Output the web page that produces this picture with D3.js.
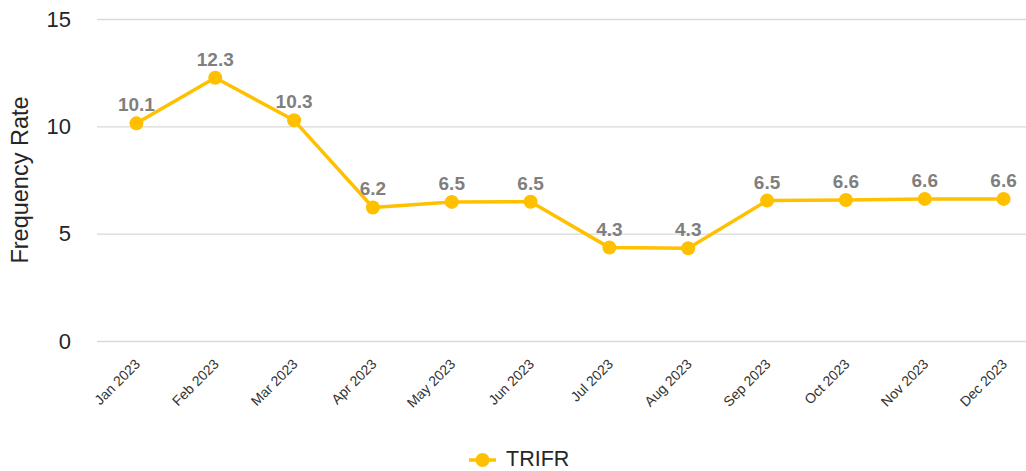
<!DOCTYPE html>
<html>
<head>
<meta charset="utf-8">
<script src="https://cdn.jsdelivr.net/npm/d3@7"></script>
<style>
  body { margin: 0; background: #fff; }
  svg { display: block; font-family: "Liberation Sans", Arial, sans-serif; }
</style>
</head>
<body>
<div id="chart"></div>
<script>
// chart data
const months = ["Jan 2023", "Feb 2023", "Mar 2023", "Apr 2023", "May 2023", "Jun 2023",
                "Jul 2023", "Aug 2023", "Sep 2023", "Oct 2023", "Nov 2023", "Dec 2023"];
const trifr = [10.14, 12.26, 10.28, 6.22, 6.48, 6.49, 4.35, 4.32, 6.54, 6.57, 6.62, 6.62];
const labels = ["10.1", "12.3", "10.3", "6.2", "6.5", "6.5", "4.3", "4.3", "6.5", "6.6", "6.6", "6.6"];
const yTicks = [0, 5, 10, 15];
const seriesName = "TRIFR";
const yTitle = "Frequency Rate";

let width = 1026, height = 471;
let color = "#ffc000";

let svg = d3.select("#chart").append("svg")
    .attr("width", width)
    .attr("height", height);

let xScale = d3.scalePoint().domain(months).range([97, 1043]).padding(0.5);
let yScale = d3.scaleLinear().domain([0, 15]).range([341, 19]);

// gridlines + y labels
let yAxis = svg.append("g")
    .attr("transform", "translate(97,0)")
    .call(d3.axisLeft(yScale).tickValues(yTicks).tickSize(-(width - 97)).tickPadding(26));
yAxis.select(".domain").remove();
yAxis.selectAll(".tick line").attr("stroke", "#d9d9d9").attr("stroke-width", 1.3);
yAxis.selectAll(".tick text")
    .attr("font-size", 22)
    .attr("fill", "#262626")
    .attr("font-family", "Liberation Sans, Arial, sans-serif");

// y title
svg.append("text")
    .attr("transform", "translate(28,180) rotate(-90)")
    .attr("text-anchor", "middle")
    .attr("font-size", 23.5)
    .attr("fill", "#262626")
    .text(yTitle);

// x labels
let xAxis = svg.append("g")
    .attr("transform", "translate(0,341)")
    .call(d3.axisBottom(xScale).tickSize(0).tickPadding(0));
xAxis.select(".domain").remove();
xAxis.selectAll(".tick text")
    .attr("font-size", 14)
    .attr("fill", "#333")
    .attr("font-family", "Liberation Sans, Arial, sans-serif")
    .attr("text-anchor", "end")
    .attr("dy", 0)
    .attr("transform", "translate(4,24) rotate(-45)");

let data = months.map((m, i) => ({ x: m, y: trifr[i], label: labels[i] }));

let line = d3.line()
    .x(d => xScale(d.x))
    .y(d => yScale(d.y));

svg.append("path")
    .datum(data)
    .attr("d", line)
    .attr("fill", "none")
    .attr("stroke", color)
    .attr("stroke-width", 3.5)
    .attr("stroke-linejoin", "round");

svg.selectAll(".dot")
    .data(data)
    .enter().append("circle")
    .attr("class", "dot")
    .attr("cx", d => xScale(d.x))
    .attr("cy", d => yScale(d.y))
    .attr("r", 7)
    .attr("fill", color);

svg.selectAll(".val")
    .data(data)
    .enter().append("text")
    .attr("class", "val")
    .attr("x", d => xScale(d.x))
    .attr("y", d => yScale(d.y) - 12)
    .attr("text-anchor", "middle")
    .attr("font-size", 19)
    .attr("font-weight", "bold")
    .attr("fill", "#7f7f7f")
    .text(d => d.label);

// legend
let legend = svg.append("g").attr("transform", "translate(469,460)");
legend.append("line")
    .attr("x1", 0).attr("x2", 27)
    .attr("stroke", color).attr("stroke-width", 3.5);
legend.append("circle")
    .attr("cx", 13.5).attr("r", 7).attr("fill", color);
legend.append("text")
    .attr("x", 37).attr("y", 6)
    .attr("font-size", 21.5)
    .attr("fill", "#262626")
    .text(seriesName);
</script>
</body>
</html>
